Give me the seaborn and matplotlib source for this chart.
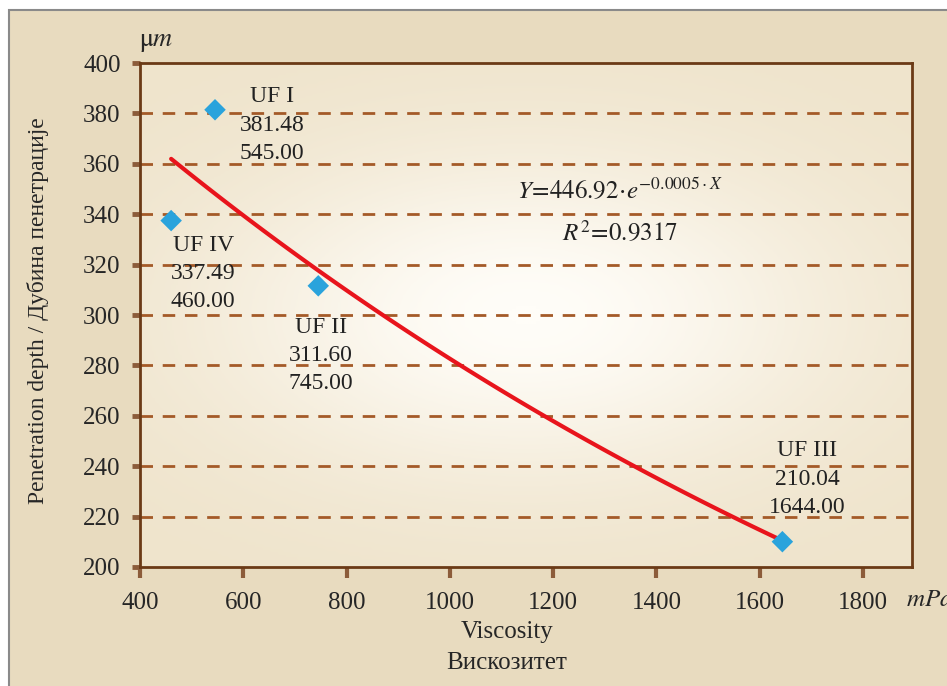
import matplotlib
matplotlib.use("Agg")
import matplotlib.pyplot as plt
from matplotlib.colors import LinearSegmentedColormap
from matplotlib.patches import Rectangle
import numpy as np
import pandas as pd
import seaborn as sns

# data
samples = ["UF I", "UF II", "UF III", "UF IV"]
viscosity = [545.00, 745.00, 1644.00, 460.00]
depth = [381.48, 311.60, 210.04, 337.49]
# label offsets (points) for each annotation
label_dx = [41, 2, 18, 23]
label_dy = [-11, -50, 45, -38]

x_ticks = [400, 600, 800, 1000, 1200, 1400, 1600, 1800]
y_ticks = [200, 220, 240, 260, 280, 300, 320, 340, 360, 380, 400]
grid_levels = [220, 240, 260, 280, 300, 320, 340, 360, 380]

df = pd.DataFrame({"sample": samples, "x": viscosity, "y": depth})

# exponential fit  y = a*exp(b*x)
b, lna = np.polyfit(df["x"], np.log(df["y"]), 1)
xs = np.linspace(df["x"].min(), df["x"].max(), 100)
fit = pd.DataFrame({"x": xs, "y": np.exp(lna) * np.exp(b * xs)})

sns.set_style("white")
plt.rcParams["font.family"] = ["Liberation Serif", "DejaVu Serif"]
plt.rcParams["mathtext.fontset"] = "stix"

brown = "#6b3a16"
tick_col = "#8c5c3a"
dash_col = "#a45a28"

fig = plt.figure(figsize=(9.47, 6.86), dpi=100, facecolor="white")
# beige panel with grey border, as in the original frame
fig.patches.append(Rectangle((9 / 947, -0.01), 1.0, 676 / 686 + 0.01, transform=fig.transFigure,
                             facecolor="#e8dbbf", edgecolor="#8a8a8a", lw=1.5, zorder=-10))

ax = fig.add_axes([0.148, 0.1735, 0.815, 0.7345])
ax.set_facecolor("#f4ecda")

# soft bright glow in the plot area
gx, gy = np.meshgrid(np.linspace(-1, 1, 200), np.linspace(-1, 1, 200))
glow = np.exp(-((gx / 0.8) ** 2 + (gy / 0.65) ** 2))
ax.imshow(glow, extent=[0, 1, 0, 1], transform=ax.transAxes,
          cmap=LinearSegmentedColormap.from_list("g", ["#efe4cc", "#fffdf8"]),
          aspect="auto", zorder=0)

for lv in grid_levels:
    ax.axhline(lv, color=dash_col, lw=2, dashes=(4.5, 3.5), zorder=1)

sns.lineplot(data=fit, x="x", y="y", color="#e8141c", lw=3, ax=ax, zorder=3)
sns.scatterplot(data=df, x="x", y="y", marker="D", s=120, color="#2aa3dc", edgecolor="none",
                ax=ax, zorder=4)

for i, r in df.iterrows():
    ax.annotate(f"{r['sample']}\n{r['y']:.2f}\n{r['x']:.2f}", (r["x"], r["y"]),
                xytext=(label_dx[i], label_dy[i]), textcoords="offset points",
                ha="center", va="center", fontsize=17, color="#222222",
                linespacing=1.45, zorder=5)

ax.text(0.622, 0.748, r"$Y\!=\!446.92\!\cdot\! e^{-0.0005\cdot X}$", transform=ax.transAxes,
        ha="center", va="center", fontsize=18, color="#222222")
ax.text(0.622, 0.663, r"$R^2\!=\!0.9317$", transform=ax.transAxes,
        ha="center", va="center", fontsize=18, color="#222222")

ax.set_xlim(400, 1895)
ax.set_ylim(200, 400)
ax.set_xticks(x_ticks)
ax.set_yticks(y_ticks)
ax.tick_params(axis="x", bottom=True, length=8, width=3, color=tick_col, pad=10,
               labelsize=18, direction="out")
ax.tick_params(axis="y", left=True, length=6, width=3.5, color=tick_col, pad=8,
               labelsize=18, direction="out")
for sp in ax.spines.values():
    sp.set_color(brown)
    sp.set_linewidth(2)
ax.set_xlabel("")
ax.set_ylabel("")

fig.text(0.04, 0.547, "Penetration depth / Дубина пенетрације", rotation=90,
         ha="center", va="center", fontsize=17)
fig.text(0.535, 0.056, "Viscosity\nВискозитет", ha="center", va="center",
         fontsize=18, linespacing=1.5)
fig.text(0.165, 0.938, r"$\mathrm{\mu}m$", ha="center", va="center", fontsize=19)
fig.text(0.957, 0.125, r"$mPa$", ha="left", va="center", fontsize=18)

fig.savefig("out.png", dpi=100, facecolor=fig.get_facecolor())
